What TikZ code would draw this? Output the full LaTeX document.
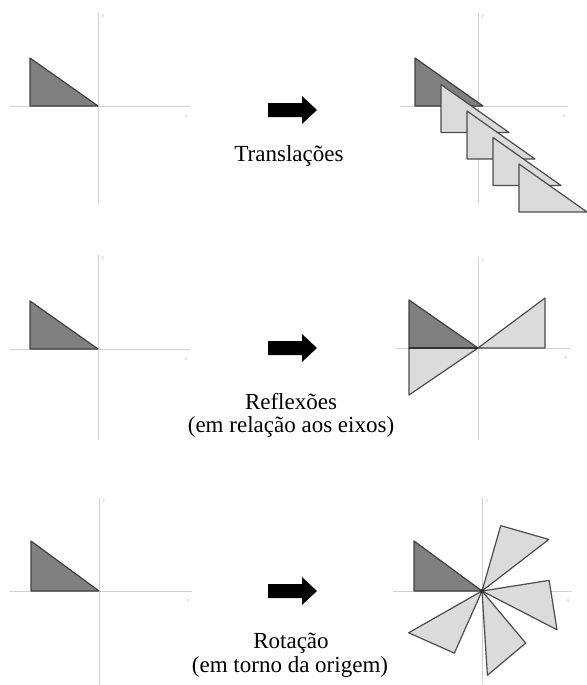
\documentclass[tikz,border=0pt]{standalone}
\usepackage{fontspec}
\setmainfont{Liberation Serif}
\begin{document}
\begin{tikzpicture}[x=1pt,y=-1pt,
  axis/.style={draw=black!18,line width=1pt},
  axlabel/.style={text=black!25,font=\fontsize{6}{6}\selectfont\itshape,inner sep=0pt},
  darktri/.style={fill=black!50,draw=black!75,line width=1.2pt,line join=round},
  lighttri/.style={fill=black!14,draw=black!70,line width=1.2pt,line join=round},
  bigarrow/.style={fill=black},
  caption/.style={font=\fontsize{23}{27}\selectfont,inner sep=0pt,align=center}]
\useasboundingbox (0,0) rectangle (586,685);
% ---------- axes ----------
\newcommand{\axes}[7]{%
  \draw[axis] (#1,#2) -- (#1,#3);
  \draw[axis] (#4,#5) -- (#6,#5);
  \node[axlabel] at (#1+5,#2+4) {y};
  \node[axlabel] at (#6-4,#5+10) {x};}
\axes{98}{13}{203}{10}{106}{190}{}
\axes{478}{13}{203}{400}{106}{568}{}
\axes{98}{255}{440}{10}{349}{190}{}
\axes{478}{257}{440}{395}{348}{570}{}
\axes{99}{498}{685}{10}{591}{192}{}
\axes{482}{498}{683}{393}{591}{572}{}
% ---------- left originals ----------
\draw[darktri] (30,58) -- (30,106) -- (98,106) -- cycle;
\draw[darktri] (30,301) -- (30,349) -- (98,349) -- cycle;
\draw[darktri] (31,541) -- (31,591) -- (99,591) -- cycle;
% ---------- translations ----------
\draw[darktri] (415,58) -- (415,106) -- (483,106) -- cycle;
\foreach \k in {1,2,3,4}{
  \draw[lighttri,shift={(26*\k,26.5*\k)}] (415,58) -- (415,106) -- (483,106) -- cycle;}
% ---------- reflections ----------
\draw[darktri] (409,300) -- (409,348) -- (478,348) -- cycle;
\draw[lighttri] (478,348) -- (545,348) -- (545,298) -- cycle;
\draw[lighttri] (409,348) -- (409,395) -- (478,348) -- cycle;
\draw[black!80,line width=1.4pt] (409,348) -- (478,348);
% ---------- rotations ----------
\draw[darktri] (414,541) -- (414,591) -- (482,591) -- cycle;
\foreach \a in {-106,-171,-230,-294}{
  \draw[lighttri,rotate around={\a:(482,591)}] (414,541) -- (414,591) -- (482,591) -- cycle;}
\fill[black!80] (482,591) circle (2.2);
% ---------- arrows ----------
\foreach \y/\n in {110/a1,348/a2,591/a3}{
  \fill[bigarrow] (268,\y-7) -- (302,\y-7) -- (302,\y-14) -- (317,\y) -- (302,\y+14) -- (302,\y+7) -- (268,\y+7) -- cycle;
  \coordinate (\n) at (292,\y);}
% ---------- captions ----------
\node[caption] (t1) at (289,156) {Translações};
\node[caption] (t2) at (291,402) {Reflexões};
\node[caption] (t3) at (291,427) {(em relação aos eixos)};
\node[caption] (t4) at (291,643) {Rotação};
\node[caption] (t5) at (290,667) {(em torno da origem)};
\end{tikzpicture}
\end{document}
